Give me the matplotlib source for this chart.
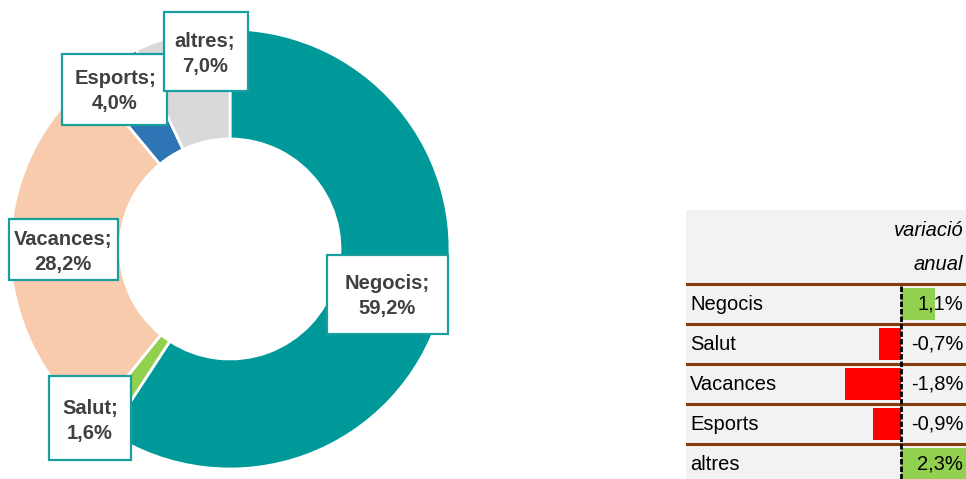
import matplotlib
matplotlib.use("Agg")
import matplotlib.pyplot as plt
from matplotlib.patches import Rectangle

categories = ["Negocis", "Salut", "Vacances", "Esports", "altres"]
shares = [59.2, 1.6, 28.2, 4.0, 7.0]
share_labels = ["59,2%", "1,6%", "28,2%", "4,0%", "7,0%"]
variation = [1.1, -0.7, -1.8, -0.9, 2.3]
variation_labels = ["1,1%", "-0,7%", "-1,8%", "-0,9%", "2,3%"]

colors = ["#009999", "#92D050", "#F8CBAD", "#2E75B6", "#D9D9D9"]
# label boxes in pixels (x0, y0, x1, y1) and text centre
label_boxes = [(327, 255, 448, 334), (49, 376, 131, 460), (9, 219, 118, 280),
               (62, 54, 167, 125), (164, 12, 248, 91)]
label_text = [(387, 296), (90, 421), (63, 252), (115, 91), (205, 54)]

W, H = 966, 479
fig = plt.figure(figsize=(W / 100, H / 100), dpi=100)
plt.rcParams["font.family"] = ["Liberation Sans", "DejaVu Sans"]


def px_rect(x0, y0, x1, y1):
    return [x0 / W, 1 - y1 / H, (x1 - x0) / W, (y1 - y0) / H]


# donut, centre (230, 249) px, radius 220 px
ax = fig.add_axes(px_rect(10, 29, 450, 469))
ax.pie(shares, colors=colors, startangle=90, counterclock=False, radius=1,
       wedgeprops=dict(width=0.5, edgecolor="white", linewidth=2))
ax.set_xlim(-1, 1)
ax.set_ylim(-1, 1)
ax.set_aspect("equal")
ax.axis("off")


def to_data(px, py):
    return (px - 230) / 220, (249 - py) / 220


for name, lab, box, tc in zip(categories, share_labels, label_boxes, label_text):
    x0, y1 = to_data(box[0], box[1])
    x1, y0 = to_data(box[2], box[3])
    ax.add_patch(Rectangle((x0, y0), x1 - x0, y1 - y0, fc="white", ec="#1A9E9E",
                           lw=1.6, clip_on=False, zorder=5))
    tx_, ty_ = to_data(*tc)
    ax.text(tx_, ty_, name + ";\n" + lab, ha="center", va="center", fontsize=14.5,
            fontweight="bold", color="#404040", linespacing=1.35, clip_on=False,
            zorder=6)

# variation table
tx = fig.add_axes(px_rect(686, 210, 966, 479))
tx.set_facecolor("#F2F2F2")
tx.set_xlim((686 - 901) / 31, (966 - 901) / 31)
tx.set_ylim(4.375, -2.35)
for s in tx.spines.values():
    s.set_visible(False)
tx.set_xticks([])
tx.set_yticks([])

rows = range(len(categories))
bar_colors = ["#92D050" if v > 0 else "#FF0000" for v in variation]
tx.barh(list(rows), variation, height=0.8, color=bar_colors, zorder=2)

for y in [-0.5, 0.5, 1.5, 2.5, 3.5]:
    tx.axhline(y, color="#843C0C", lw=2.2, zorder=3)
tx.plot([0, 0], [-0.45, 4.4], color="black", lw=2, ls=(0, (2, 0.7)), zorder=4)

for i, (name, lab) in enumerate(zip(categories, variation_labels)):
    tx.text(0.015, i, name, transform=tx.get_yaxis_transform(), ha="left",
            va="center", fontsize=14.5, color="black", zorder=5)
    tx.text(0.99, i, lab, transform=tx.get_yaxis_transform(), ha="right",
            va="center", fontsize=14.5, color="black", zorder=5)

tx.text(0.99, -1.83, "variació", transform=tx.get_yaxis_transform(), ha="right",
        va="center", fontsize=14.5, style="italic")
tx.text(0.99, -1.0, "anual", transform=tx.get_yaxis_transform(), ha="right",
        va="center", fontsize=14.5, style="italic")

fig.savefig("out.png", dpi=100)
